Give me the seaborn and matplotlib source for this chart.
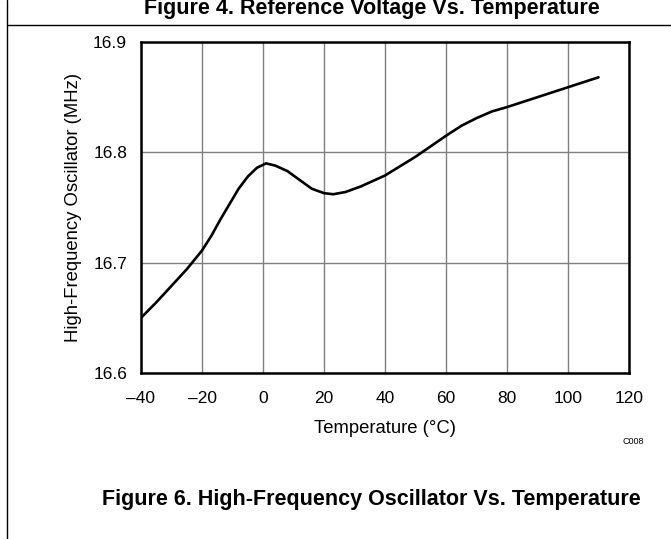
import matplotlib
matplotlib.use("Agg")
import matplotlib.pyplot as plt
import seaborn as sns
import pandas as pd
from matplotlib.lines import Line2D

temperature_c = [-40, -35, -30, -25, -20, -17, -14, -11, -8, -5, -2, 1, 4, 8, 12, 16,
                 20, 23, 27, 32, 40, 50, 60, 65, 70, 75, 80, 90, 100, 110]
frequency_mhz = [16.650, 16.664, 16.679, 16.694, 16.711, 16.724, 16.739, 16.753, 16.767,
                 16.778, 16.786, 16.790, 16.788, 16.783, 16.775, 16.767, 16.763, 16.762,
                 16.764, 16.769, 16.779, 16.796, 16.815, 16.824, 16.831, 16.837, 16.841,
                 16.850, 16.859, 16.868]
x_ticks = [-40, -20, 0, 20, 40, 60, 80, 100, 120]
x_tick_labels = ["\u201340", "\u201320", "0", "20", "40", "60", "80", "100", "120"]
y_ticks = [16.6, 16.7, 16.8, 16.9]
y_tick_labels = ["16.6", "16.7", "16.8", "16.9"]

sns.set_theme(style="white")
plt.rcParams['font.family'] = ['Liberation Sans', 'DejaVu Sans']
plt.rcParams['lines.solid_joinstyle'] = 'round'

df = pd.DataFrame({"Temperature": temperature_c, "Frequency": frequency_mhz})

fig = plt.figure(figsize=(6.71, 5.39), dpi=100)
ax = fig.add_axes([141/671, 1-373/539, (629-141)/671, (373-42)/539])

sns.lineplot(data=df, x="Temperature", y="Frequency", ax=ax, color="black",
             linewidth=1.9, zorder=3)

ax.set_xlim(-40, 120)
ax.set_ylim(16.6, 16.9)
ax.set_xticks(x_ticks)
ax.set_xticklabels(x_tick_labels)
ax.set_yticks(y_ticks)
ax.set_yticklabels(y_tick_labels)
ax.tick_params(axis="y", labelsize=12.5, colors="black", length=0, pad=10)
ax.tick_params(axis="x", labelsize=12.5, colors="black", length=0, pad=13)
ax.grid(True, color="#7f7f7f", linewidth=1.0)
for s in ax.spines.values():
    s.set_color("black")
    s.set_linewidth(1.8)
    s.set_zorder(4)
ax.set_xlabel("Temperature (\u00b0C)", fontsize=13.3, color="black", labelpad=10)
ax.set_ylabel("High-Frequency Oscillator (MHz)", fontsize=13.3, color="black", labelpad=8)

fig.text(633/671, 1-441/539, "C008", fontsize=6.5, ha="center", va="center", color="black")

# page frame lines
fig.add_artist(Line2D([7/671, 7/671], [0, 1], transform=fig.transFigure, color="black", linewidth=1.0))
fig.add_artist(Line2D([7/671, 1], [1-25/539, 1-25/539], transform=fig.transFigure, color="black", linewidth=1.0))

fig.text(372/671, 1-8.6/539, "Figure 4. Reference Voltage Vs. Temperature", fontsize=15.5,
         fontweight="bold", ha="center", va="center", color="black")
fig.text(371/671, 1-500/539, "Figure 6. High-Frequency Oscillator Vs. Temperature", fontsize=15.5,
         fontweight="bold", ha="center", va="center", color="black")

fig.savefig("out.png", dpi=100)
